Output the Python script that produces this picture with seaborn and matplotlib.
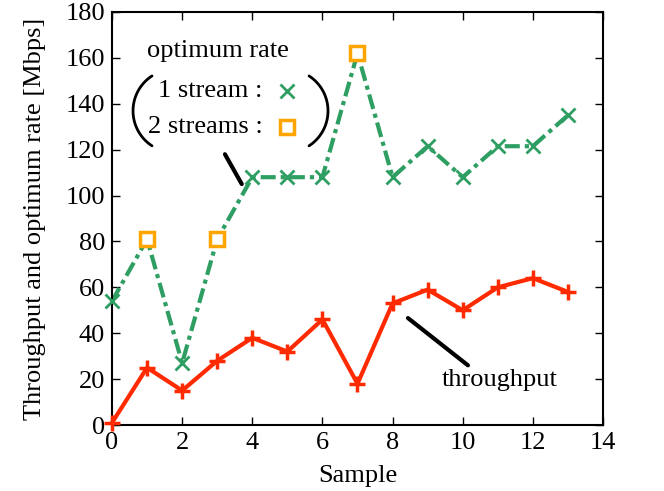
import matplotlib
matplotlib.use("Agg")
import matplotlib.pyplot as plt
import seaborn as sns
import pandas as pd
import numpy as np

# data
sample = list(range(14))
throughput = [1, 25, 15, 28, 38, 32, 46, 18, 53, 59, 50, 60, 64, 58]
optimum = [54, 81, 27, 81, 108, 108, 108, 162, 108, 121.5, 108, 121.5, 121.5, 135]
streams = [1, 2, 1, 2, 1, 1, 1, 2, 1, 1, 1, 1, 1, 1]

green = "#2e9e62"
orange = "#ffa500"
red = "#ff2a00"

df = pd.DataFrame({"sample": sample, "throughput": throughput,
                   "optimum": optimum, "streams": streams})

sns.set_style("ticks")
plt.rcParams["font.family"] = ["Liberation Serif", "DejaVu Serif"]
plt.rcParams["text.color"] = "black"
plt.rcParams["axes.labelcolor"] = "black"
plt.rcParams["xtick.color"] = "black"
plt.rcParams["ytick.color"] = "black"

fs = 19
fig = plt.figure(figsize=(6.64, 4.91), dpi=100)
ax = fig.add_axes([0.1687, 0.1344, 0.9081 - 0.1687, 0.9756 - 0.1344])

# optimum rate line (dash-dot)
sns.lineplot(data=df, x="sample", y="optimum", ax=ax, color=green, lw=3,
             linestyle=(0, (3.6, 1.2, 1, 1.2)), errorbar=None, clip_on=False)
one = df[df.streams == 1]
two = df[df.streams == 2]
ax.plot(one["sample"], one["optimum"], ls="none", marker="x", ms=10, mew=2,
        color=green, clip_on=False, zorder=4)
ax.plot(two["sample"], two["optimum"], ls="none", marker="s", ms=10, mew=2.5,
        mfc="white", mec=orange, clip_on=False, zorder=5)

# throughput line
sns.lineplot(data=df, x="sample", y="throughput", ax=ax, color=red, lw=3,
             marker="+", markersize=12, markeredgewidth=2.5, mec=red,
             errorbar=None, clip_on=False, zorder=3)

ax.set_xlim(0, 14)
ax.set_ylim(0, 180)
ax.set_xticks(range(0, 15, 2))
ax.set_yticks(range(0, 181, 20))
ax.tick_params(direction="in", length=6, width=1, top=True, right=True,
               labelsize=fs, pad=5)
for s in ax.spines.values():
    s.set_linewidth(1.5)
    s.set_color("black")
ax.set_xlabel("Sample", fontsize=fs, labelpad=8)
ax.set_ylabel("Throughput and optimum rate [Mbps]", fontsize=fs, labelpad=14)

# annotations
ax.plot([8.44, 10.15], [46.6, 26], color="black", lw=3)
ax.text(11.06, 19.6, "throughput", fontsize=fs, ha="center", va="center")
ax.plot([3.22, 3.7], [118, 105], color="black", lw=3)
ax.text(3.02, 163, "optimum rate", fontsize=fs, ha="center", va="center")
ax.text(4.3, 145.5, "1 stream :", fontsize=fs, ha="right", va="center")
ax.text(4.3, 130, "2 streams :", fontsize=fs, ha="right", va="center")
ax.plot([5.0], [145.5], ls="none", marker="x", ms=10, mew=2, color=green)
ax.plot([5.0], [130], ls="none", marker="s", ms=10, mew=2.5, mfc="white", mec=orange)

# bracket arcs around the key (circle in screen space -> data units)
sx, sy = 14 / 491.0, 180 / 413.0  # data units per pixel
r = 41.7
t = np.radians(np.linspace(123, 237, 40))
ax.plot(1.788 + r * np.cos(t) * sx, 136.9 + r * np.sin(t) * sy, color="black", lw=2)
t = np.radians(np.linspace(-57, 57, 40))
ax.plot(4.97 + r * np.cos(t) * sx, 136.9 + r * np.sin(t) * sy, color="black", lw=2)

fig.savefig("out.png", dpi=100)
